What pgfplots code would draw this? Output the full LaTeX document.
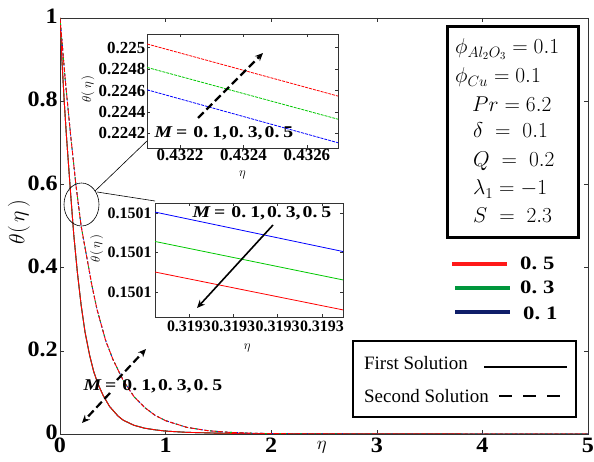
\RequirePackage{fix-cm}
\documentclass[border=0pt]{standalone}
\usepackage{amsmath}
\usepackage{pgfplots}
\pgfplotsset{compat=1.18}
\usepackage{fontspec}
\setmainfont{Liberation Serif}
\newfontfamily\widefont[FakeStretch=1.2]{Liberation Serif}
\newfontfamily\midfont[FakeStretch=1.1]{Liberation Serif}
\usetikzlibrary{arrows.meta}
\definecolor{cred}{RGB}{255,0,0}
\definecolor{cgreen}{RGB}{0,200,0}
\definecolor{cblue}{RGB}{0,0,255}
\definecolor{lred}{RGB}{255,25,25}
\definecolor{lgreen}{RGB}{0,150,60}
\definecolor{lblue}{RGB}{15,30,105}
\newcommand{\Mtext}{{\widefont\fontsize{16.5}{16.5}\selectfont\bfseries\itshape M}\hspace{4bp}{\widefont\fontsize{16.5}{16.5}\selectfont\bfseries =\hspace{6bp}0.\hspace{4bp}1,\hspace{2bp}0.\hspace{4bp}3,\hspace{2bp}0.\hspace{4bp}5}}

\pgfplotstableread{
x y
0 1
0.02 0.89
0.04 0.80
0.06 0.72
0.08 0.65
0.1 0.58
0.13 0.48
0.164 0.39
0.2 0.31
0.237 0.245
0.28 0.19
0.3193 0.1501
0.36 0.12
0.41 0.092
0.47 0.066
0.55 0.043
0.6 0.033
0.7 0.021
0.8 0.014
0.9 0.010
1.0 0.007
1.2 0.004
1.5 0.002
2 0.0007
3 0.0002
5 0
}\firstsol

\pgfplotstableread{
x y
0 1
0.05 0.85
0.1 0.72
0.15 0.60
0.2 0.50
0.25 0.43
0.3 0.36
0.35 0.30
0.4324 0.2246
0.5 0.18
0.6 0.128
0.7 0.09
0.8 0.064
0.9 0.045
1.0 0.032
1.2 0.016
1.4 0.008
1.6 0.004
1.8 0.002
2.0 0.001
2.5 0.0002
3 0
5 0
}\secondsol

\begin{document}
\begin{tikzpicture}
\path[use as bounding box] (0,0) rectangle (594bp,462bp);

% ---------------- main axis
\begin{axis}[
  at={(60bp,28bp)}, anchor=south west, scale only axis,
  width=528bp, height=416bp,
  xmin=0, xmax=5, ymin=0, ymax=1,
  xtick={0,1,2,3,4,5}, ytick={0,0.2,0.4,0.6,0.8,1},
  tick align=inside, major tick length=4bp,
  axis line style={line width=0.6bp, black!80},
  tick style={black!80, line width=0.5bp},
  /pgf/number format/assume math mode=true,
  tick label style={font=\midfont\bfseries\fontsize{22}{22}\selectfont},
  yticklabel style={inner sep=2bp, yshift=1.5bp},
  xticklabel style={inner sep=2bp, yshift=-1.5bp},
  xlabel={$\eta$},
  xlabel style={at={(axis description cs:0.496,-0.031)}, anchor=center, font=\fontsize{19}{19}\selectfont},
  ylabel={$\theta(\,\eta\,)$},
  ylabel style={font=\fontsize{22}{22}\selectfont, at={(axis description cs:-0.078,0.51)}, anchor=center},
]
\addplot[cblue, line width=0.9bp] table {\firstsol};
\addplot[cgreen, line width=0.9bp] table {\firstsol};
\addplot[cred, line width=0.9bp] table {\firstsol};
\addplot[cblue, line width=0.9bp, dash pattern=on 3bp off 2bp] table {\secondsol};
\addplot[cgreen, line width=0.9bp, dash pattern=on 2bp off 3bp] table {\secondsol};
\addplot[cred, line width=0.9bp, dash pattern=on 5bp off 2bp] table {\secondsol};
\end{axis}

% annotations on main plot
\draw[line width=0.6bp] (81.5bp,257.5bp) ellipse [x radius=17.5bp, y radius=21.5bp];
\draw[line width=0.6bp] (95bp,271bp) -- (148bp,322bp);
\draw[line width=0.6bp] (97bp,270bp) -- (155bp,261bp);
\draw[line width=2.2bp, dash pattern=on 8bp off 4bp, -{Stealth[length=8bp,width=7bp]}] (117bp,82bp) -- (146bp,113bp);
\draw[line width=2.2bp, dash pattern=on 8bp off 4bp, -{Stealth[length=8bp,width=7bp]}] (110bp,69bp) -- (82bp,39bp);
\path (153bp,76bp) node[inner sep=0pt] {\Mtext};

% parameter box
\draw[line width=3bp] (447bp,435bp) rectangle (578bp,224bp);
\path (455bp,408bp) node[anchor=base west, inner sep=0pt, font=\fontsize{21.5}{21.5}\selectfont] {$\phi_{Al_2O_3} = 0.1$};
\path (455bp,379bp) node[anchor=base west, inner sep=0pt, font=\fontsize{21.5}{21.5}\selectfont] {$\phi_{Cu} = 0.1$};
\path (472bp,350bp) node[anchor=base west, inner sep=0pt, font=\fontsize{21.5}{21.5}\selectfont] {$Pr = 6.2$};
\path (473bp,324bp) node[anchor=base west, inner sep=0pt, font=\fontsize{21.5}{21.5}\selectfont] {$\delta\mskip5mu=\mskip5mu 0.1$};
\path (473bp,295bp) node[anchor=base west, inner sep=0pt, font=\fontsize{21.5}{21.5}\selectfont] {$Q\mskip5mu=\mskip5mu 0.2$};
\path (473bp,267bp) node[anchor=base west, inner sep=0pt, font=\fontsize{21.5}{21.5}\selectfont] {$\lambda_1 = -1$};
\path (473bp,239bp) node[anchor=base west, inner sep=0pt, font=\fontsize{21.5}{21.5}\selectfont] {$S\mskip5mu=\mskip5mu 2.3$};

% colour legend
\draw[lred, line width=4bp] (452bp,198bp) -- (507bp,198bp);
\draw[lgreen, line width=4bp] (455bp,174bp) -- (510bp,174bp);
\draw[lblue, line width=4bp] (455bp,150bp) -- (510bp,150bp);
\path (520bp,199bp) node[anchor=west, inner sep=0pt, font=\widefont\bfseries\fontsize{19}{19}\selectfont] {0.\hspace{6bp}5};
\path (520bp,175bp) node[anchor=west, inner sep=0pt, font=\widefont\bfseries\fontsize{19}{19}\selectfont] {0.\hspace{6bp}3};
\path (523bp,149bp) node[anchor=west, inner sep=0pt, font=\widefont\bfseries\fontsize{19}{19}\selectfont] {0.\hspace{6bp}1};

% solution legend
\draw[line width=2bp] (353bp,121bp) rectangle (576bp,45bp);
\path (364bp,99bp) node[anchor=west, inner sep=0pt, font=\fontsize{19}{19}\selectfont] {First Solution};
\path (364bp,66bp) node[anchor=west, inner sep=0pt, font=\fontsize{19}{19}\selectfont] {Second Solution};
\draw[line width=2.5bp] (484bp,95bp) -- (567bp,95bp);
\draw[line width=2.5bp, dash pattern=on 13bp off 11bp] (499bp,66bp) -- (567bp,66bp);

% ---------------- inset 1 (second solution)
\begin{axis}[
  at={(147bp,314bp)}, anchor=south west, scale only axis,
  width=191bp, height=114bp,
  xmin=0.432096, xmax=0.432698, ymin=0.224063, ymax=0.225128,
  xtick={0.4322,0.4324,0.4326}, ytick={0.2242,0.2244,0.2246,0.2248,0.225},
  scaled ticks=false,
  xticklabel style={/pgf/number format/.cd, fixed, precision=4},
  yticklabel style={/pgf/number format/.cd, fixed, precision=4},
  axis background/.style={fill=white},
  tick align=inside, major tick length=3bp,
  axis line style={line width=0.5bp, black!80},
  tick style={black!80, line width=0.4bp},
  /pgf/number format/assume math mode=true,
  tick label style={font=\bfseries\fontsize{17}{17}\selectfont, inner sep=1.5bp},
  xlabel={$\eta$}, ylabel={$\theta(\,\eta\,)$},
  label style={font=\fontsize{13}{13}\selectfont},
  xlabel style={at={(axis description cs:0.5,-0.24)}, anchor=center},
  ylabel style={at={(axis description cs:-0.31,0.52)}, anchor=center},
]
\addplot[cred, line width=0.8bp, dash pattern=on 3bp off 1bp] coordinates {(0.432096,0.225035) (0.432698,0.224548)};
\addplot[cgreen, line width=0.8bp, dash pattern=on 3bp off 1bp] coordinates {(0.432096,0.224816) (0.432698,0.224332)};
\addplot[cblue, line width=0.8bp, dash pattern=on 3bp off 1bp] coordinates {(0.432096,0.224607) (0.432698,0.224112)};
\end{axis}
\draw[line width=2.2bp, dash pattern=on 8bp off 4bp, -{Stealth[length=8bp,width=7bp]}] (198bp,344bp) -- (263bp,409bp);
\path (224bp,329bp) node[inner sep=0pt] {\Mtext};

% ---------------- inset 2 (first solution); coordinates: x = (eta-0.3193)*1e6, y = (theta-0.15)*1e5
\begin{axis}[
  at={(155bp,145bp)}, anchor=south west, scale only axis,
  width=188bp, height=114bp,
  xmin=-1.53, xmax=6.95, ymin=6.73, ymax=12.51,
  xtick={0,2,4,6}, xticklabels={0.3193,0.3193,0.3193,0.3193},
  ytick={8,10,12}, yticklabels={0.1501,0.1501,0.1501},
  axis background/.style={fill=white},
  tick align=inside, major tick length=3bp,
  axis line style={line width=0.5bp, black!80},
  tick style={black!80, line width=0.4bp},
  tick label style={font=\bfseries\fontsize{16}{16}\selectfont},
  xlabel={$\eta$}, ylabel={$\theta(\,\eta\,)$},
  label style={font=\fontsize{13}{13}\selectfont},
  xlabel style={at={(axis description cs:0.49,-0.27)}, anchor=center},
  ylabel style={at={(axis description cs:-0.31,0.6)}, anchor=center},
]
\addplot[cblue, line width=0.8bp] coordinates {(-1.53,12.05) (6.95,10.05)};
\addplot[cgreen, line width=0.8bp] coordinates {(-1.53,10.56) (6.95,8.61)};
\addplot[cred, line width=0.8bp] coordinates {(-1.53,9.01) (6.95,7.09)};
\end{axis}
\draw[line width=1.6bp, -{Stealth[length=8bp,width=7bp]}] (273bp,237bp) -- (197bp,154bp);
\path (262bp,249bp) node[inner sep=0pt] {\Mtext};
\end{tikzpicture}
\end{document}
